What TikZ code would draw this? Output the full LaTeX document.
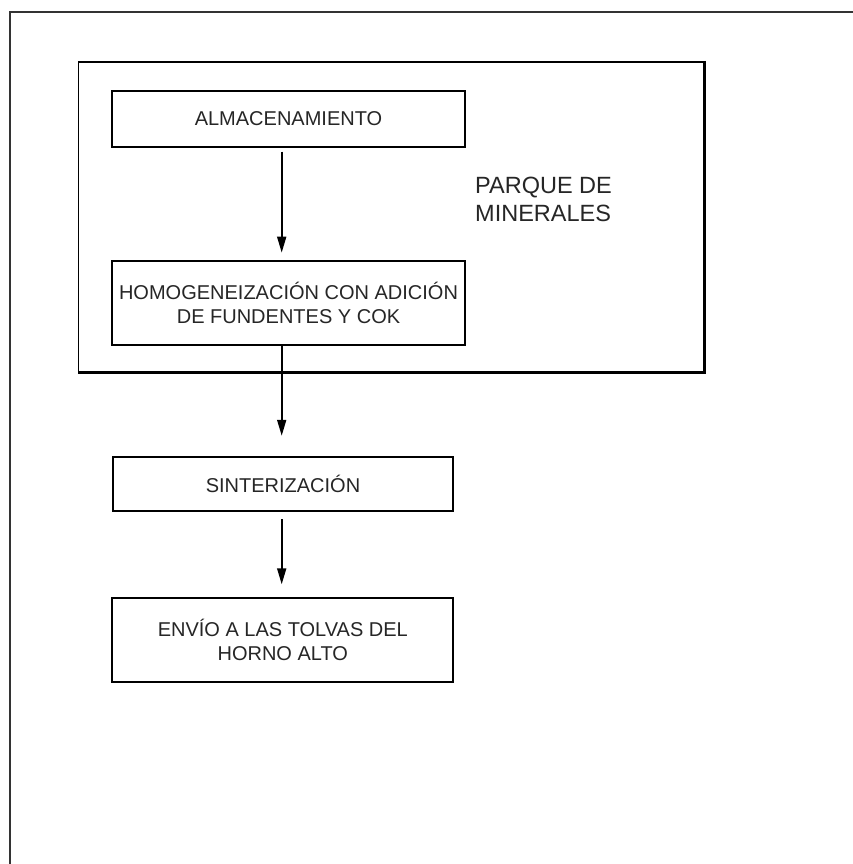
\documentclass[tikz,border=0pt]{standalone}
\usepackage{fontspec}
\setmainfont{Liberation Sans}
\usetikzlibrary{arrows.meta,calc}
\begin{document}
\begin{tikzpicture}[x=1pt,y=-1pt,
  box/.style={draw=black, line width=2pt, inner sep=0pt, align=center,
    font=\fontsize{20}{24.5}\selectfont, text=black!85},
  arr/.style={draw=black, line width=1.8pt, -{Triangle[length=16pt,width=9pt]}},
  frameline/.style={draw=black!80, line width=1.7pt},
  group/.style={draw=black, line width=1.6pt, inner sep=0pt}]
\useasboundingbox (0,0) rectangle (853,864);
\fill[white] (0,0) rectangle (853,864);
% outer frame (runs off the page right and bottom)
\coordinate (fbl) at (9.7,875);
\coordinate (ftl) at (9.7,12);
\coordinate (ftr) at (865,12);
\draw[frameline] (fbl) -- (ftl) -- (ftr);
% group box
\node[group, minimum width=625pt, minimum height=310pt] (parque) at (390.8,216.8) {};
\draw[line width=3pt] (parque.north east) -- (parque.south east) -- (parque.south west);
\node[anchor=west, align=left, inner sep=0pt, text=black!85,
  font=\fontsize{23.5}{28}\selectfont] (parquelbl) at (475,199.2) {PARQUE DE\\MINERALES};
% process boxes
\node[box, minimum width=353pt, minimum height=56pt] (almac) at (288.5,118.7) {ALMACENAMIENTO};
\node[box, minimum width=353pt, minimum height=84.3pt] (homog) at (288.5,302.8)
  {HOMOGENEIZACIÓN CON ADICIÓN\\DE FUNDENTES Y COK};
\node[box, minimum width=340.6pt, minimum height=54.5pt] (sinter) at (283,484) {SINTERIZACIÓN};
\node[box, minimum width=341pt, minimum height=83.4pt] (envio) at (282.8,640)
  {ENVÍO A LAS TOLVAS DEL\\HORNO ALTO};
% arrows
\draw[arr] ([xshift=-6.8pt,yshift=-4pt]almac.south) -- ([xshift=-6.8pt,yshift=7pt]homog.north);
\draw[arr] ([xshift=-6.8pt]homog.south) -- ([xshift=-1.3pt,yshift=20pt]sinter.north);
\draw[arr] ([xshift=-1.3pt,yshift=-7pt]sinter.south) -- ([xshift=-1.1pt,yshift=13pt]envio.north);
\end{tikzpicture}
\end{document}
